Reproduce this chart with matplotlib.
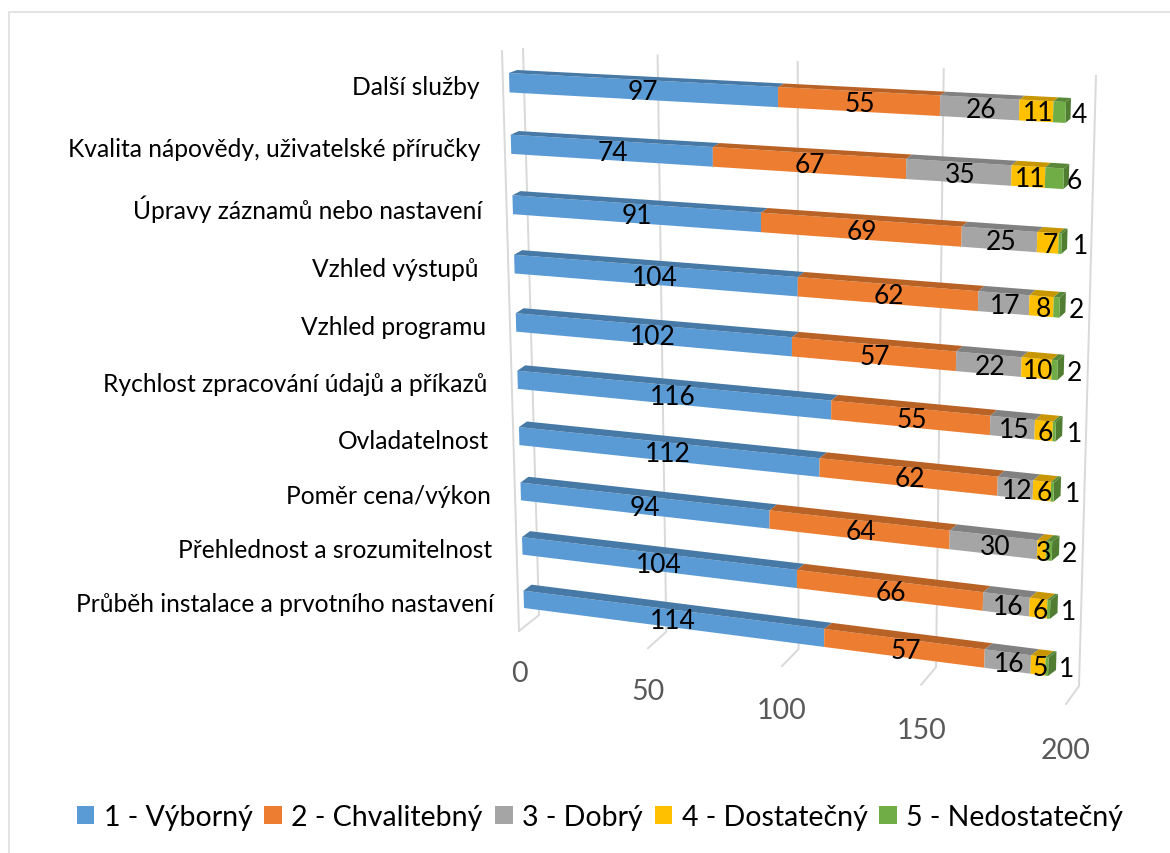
import numpy as np
import matplotlib
matplotlib.use("Agg")
import matplotlib.pyplot as plt
from matplotlib.patches import Patch

plt.rcParams['font.family'] = ['Lato', 'DejaVu Sans']

categories = ["Průběh instalace a prvotního nastavení", "Přehlednost a srozumitelnost",
              "Poměr cena/výkon", "Ovladatelnost", "Rychlost zpracování údajů a příkazů",
              "Vzhled programu", "Vzhled výstupů", "Úpravy záznamů nebo nastavení",
              "Kvalita nápovědy, uživatelské příručky", "Další služby"]
vyborny = [114, 104, 94, 112, 116, 102, 104, 91, 74, 97]
chvalitebny = [57, 66, 64, 62, 55, 57, 62, 69, 67, 55]
dobry = [16, 16, 30, 12, 15, 22, 17, 25, 35, 26]
dostatecny = [5, 6, 3, 6, 6, 10, 8, 7, 11, 11]
nedostatecny = [1, 1, 2, 1, 1, 2, 2, 1, 6, 4]
series_names = ["1 - Výborný", "2 - Chvalitebný", "3 - Dobrý", "4 - Dostatečný", "5 - Nedostatečný"]
colors = ["#5B9BD5", "#ED7D31", "#A5A5A5", "#FFC000", "#70AD47"]
ticks = [0, 50, 100, 150, 200]


def homography(src, dst):
    A, b = [], []
    for (x, y), (u, v) in zip(src, dst):
        A.append([x, y, 1, 0, 0, 0, -u * x, -u * y]); b.append(u)
        A.append([0, 0, 0, x, y, 1, -v * x, -v * y]); b.append(v)
    h = np.linalg.solve(np.array(A, float), np.array(b, float))
    return np.append(h, 1).reshape(3, 3)


def apply(H, x, y):
    p = H @ np.array([x, y, 1.0])
    return np.array([p[0] / p[2], p[1] / p[2]])


def darker(c, f):
    return tuple(np.array(matplotlib.colors.to_rgb(c)) * f)


def cat_pos(i):
    # slight extra foreshortening of the category axis
    return i - 0.0025 * i * (9 - i)


HALF = 0.16
LOW, HIGH = -HALF, 9 + HALF
TOTAL = 193
src_bar = [(0, HIGH), (0, LOW), (TOTAL, HIGH), (TOTAL, LOW)]
H_front = homography(src_bar, [(509, 74), (524, 609), (1066, 103), (1048, 677)])
H_back = homography(src_bar, [(517, 71), (532, 603), (1071, 99), (1056, 671)])
src_wall = [(0, 9.5), (0, -0.5), (200, 9.5), (200, -0.5)]
H_wall = homography(src_wall, [(523, 50), (539, 616), (1096, 77), (1079, 687)])
H_side = homography(src_wall, [(502, 52), (519, 632), (1078, 80), (1066, 705)])

fig = plt.figure(figsize=(11.7, 8.54), dpi=100)
ax = fig.add_axes([0, 0, 1, 1])
ax.set_xlim(0, 1170)
ax.set_ylim(854, 0)
ax.axis("off")

# chart frame (left and top edges are inside the crop)
GRID = "#D9D9D9"
ax.plot([8.5, 8.5, 1170], [854, 12.5, 12.5], color="#E0E0E0", lw=1.3, zorder=0)

# walls and floor
for t in ticks:
    top = apply(H_wall, t, 9.5)
    bot = apply(H_wall, t, -0.5)
    fr = apply(H_side, t, -0.5)
    ax.plot([top[0], bot[0], fr[0]], [top[1], bot[1], fr[1]], color=GRID, lw=1.4, zorder=1,
            solid_joinstyle="miter")
    ax.text(fr[0], fr[1] + 42 + t * 0.02, str(t), ha="center", va="center", fontsize=20.5,
            color="#595959")
a, b = apply(H_side, 0, 9.5), apply(H_side, 0, -0.5)
ax.plot([a[0], b[0]], [a[1], b[1]], color=GRID, lw=1.4, zorder=1)

# bars
series = [vyborny, chvalitebny, dobry, dostatecny, nedostatecny]
for i, cat in enumerate(categories):
    left = 0
    pos = cat_pos(i)
    for s, (vals, col) in enumerate(zip(series, colors)):
        v = vals[i]
        c1, c2 = pos - HALF, pos + HALF
        f = [apply(H_front, left, c1), apply(H_front, left + v, c1),
             apply(H_front, left + v, c2), apply(H_front, left, c2)]
        bk = [apply(H_back, left, c2), apply(H_back, left + v, c2)]
        ax.fill(*zip(*f), color=col, lw=0, zorder=3)
        ax.fill(*zip(f[3], f[2], bk[1], bk[0]), color=darker(col, 0.78), lw=0, zorder=3)
        if s == len(series) - 1:
            bk2 = apply(H_back, left + v, c1)
            ax.fill(*zip(f[1], f[2], bk[1], bk2), color=darker(col, 0.72), lw=0, zorder=2.9)
        mid = apply(H_front, left + v / 2, pos)
        dx = 20 if s == len(series) - 1 else 2
        ax.text(mid[0] + dx, mid[1] + 2, str(v), ha="center", va="center", fontsize=19,
                color="black", zorder=5)
        left += v
    lab = apply(H_front, 0, pos)
    name = cat + " " if cat == "Vzhled výstupů" else cat
    ax.text(lab[0] - 30, lab[1] + 4, name, ha="right", va="center", fontsize=17.7,
            color="black", zorder=5)

handles = [Patch(facecolor=c, edgecolor="none", label=n) for c, n in zip(colors, series_names)]
fig.legend(handles=handles, loc="center", bbox_to_anchor=(600 / 1170, 1 - 818 / 854), ncol=5,
           frameon=False, fontsize=20.5, handlelength=0.63, handleheight=0.63,
           handletextpad=0.32, columnspacing=0.42, borderpad=0)

fig.savefig("out.png", dpi=100)
